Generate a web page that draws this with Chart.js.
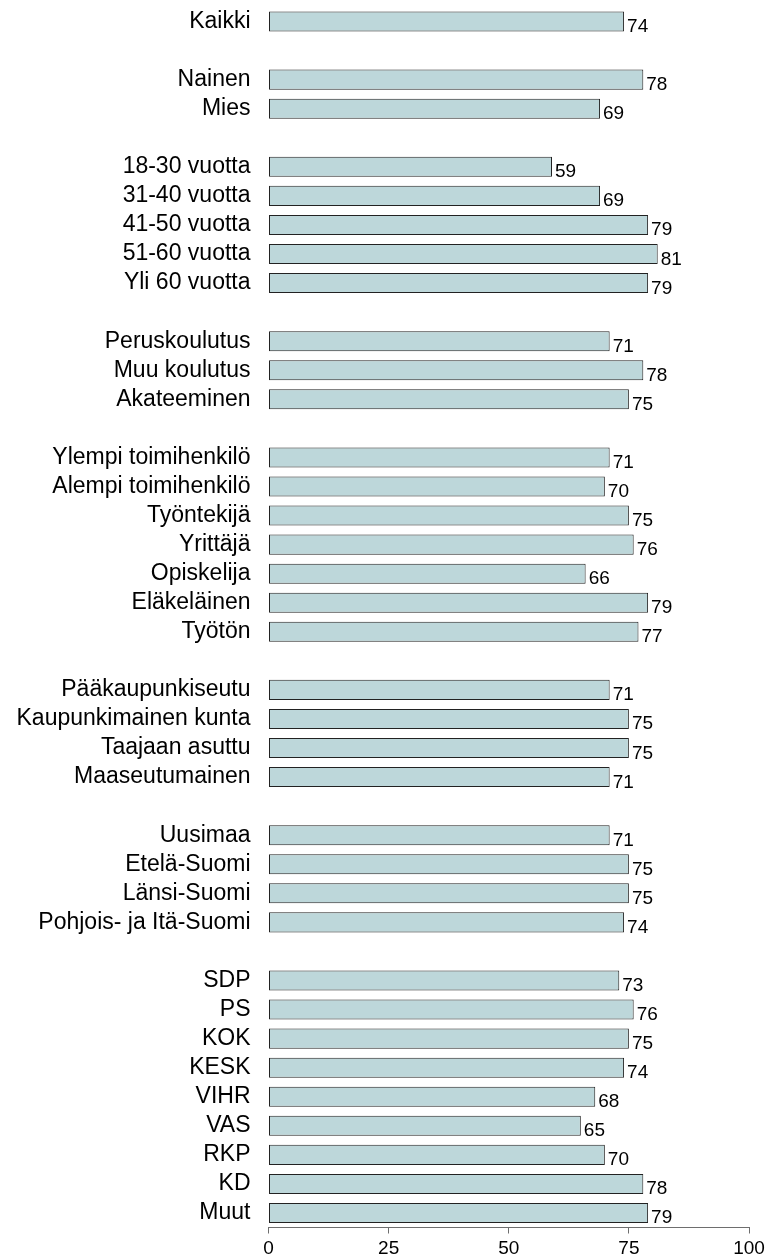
<!DOCTYPE html>
<html>
<head>
<meta charset="utf-8">
<script src="https://cdn.jsdelivr.net/npm/chart.js@4"></script>
<style>
  body { margin: 0; background: #fff; }
  #wrap { width: 767px; height: 1256px; position: relative; }
</style>
</head>
<body>
<div id="wrap"><canvas id="chartVastaajat"></canvas></div>
<script>
const kaikkiLabels = ['Kaikki'];
const kaikkiData = [74];
const sukupuoliLabels = ['Nainen', 'Mies'];
const sukupuoliData = [78, 69];
const ikaLabels = ['18-30 vuotta', '31-40 vuotta', '41-50 vuotta', '51-60 vuotta', 'Yli 60 vuotta'];
const ikaData = [59, 69, 79, 81, 79];
const koulutusLabels = ['Peruskoulutus', 'Muu koulutus', 'Akateeminen'];
const koulutusData = [71, 78, 75];
const ammattiLabels = ['Ylempi toimihenkilö', 'Alempi toimihenkilö', 'Työntekijä', 'Yrittäjä', 'Opiskelija', 'Eläkeläinen', 'Työtön'];
const ammattiData = [71, 70, 75, 76, 66, 79, 77];
const kuntaLabels = ['Pääkaupunkiseutu', 'Kaupunkimainen kunta', 'Taajaan asuttu', 'Maaseutumainen'];
const kuntaData = [71, 75, 75, 71];
const alueLabels = ['Uusimaa', 'Etelä-Suomi', 'Länsi-Suomi', 'Pohjois- ja Itä-Suomi'];
const alueData = [71, 75, 75, 74];
const puolueLabels = ['SDP', 'PS', 'KOK', 'KESK', 'VIHR', 'VAS', 'RKP', 'KD', 'Muut'];
const puolueData = [73, 76, 75, 74, 68, 65, 70, 78, 79];
const xTicks = [0, 25, 50, 75, 100];

// groups separated by one empty row
const ryhmat = [
    [kaikkiLabels, kaikkiData],
    [sukupuoliLabels, sukupuoliData],
    [ikaLabels, ikaData],
    [koulutusLabels, koulutusData],
    [ammattiLabels, ammattiData],
    [kuntaLabels, kuntaData],
    [alueLabels, alueData],
    [puolueLabels, puolueData]
];
const labels = [];
const valores = [];
ryhmat.forEach(function (r, i) {
    if (i > 0) {
        labels.push('');
        valores.push(null);
    }
    r[0].forEach(function (l, j) {
        labels.push(l);
        valores.push(r[1][j]);
    });
});

const valueLabels = {
    id: 'valueLabels',
    afterDatasetsDraw(chart) {
        const ctx = chart.ctx;
        const meta = chart.getDatasetMeta(0);
        ctx.save();
        ctx.font = '19px "Liberation Sans", Arial, sans-serif';
        ctx.fillStyle = '#000';
        ctx.textAlign = 'left';
        ctx.textBaseline = 'alphabetic';
        meta.data.forEach(function (bar, i) {
            const v = valores[i];
            if (v === null) return;
            ctx.fillText(String(v), bar.x + 3, bar.y + bar.height / 2 + 0.5);
        });
        ctx.restore();
    }
};

document.addEventListener("DOMContentLoaded", () => {
    const ctx = document.getElementById('chartVastaajat');

    new Chart(ctx, {
        type: 'bar',
        data: {
            labels: labels,
            datasets: [{
                data: valores,
                backgroundColor: '#bdd7da',
                borderColor: '#222',
                borderWidth: 1,
                borderSkipped: false,
                categoryPercentage: 1,
                barPercentage: 0.69
            }]
        },
        options: {
            indexAxis: 'y',
            responsive: true,
            maintainAspectRatio: false,
            animation: false,
            layout: {
                padding: { top: 7, right: 18, left: 0, bottom: 0 }
            },
            plugins: {
                legend: { display: false },
                tooltip: { enabled: false }
            },
            scales: {
                y: {
                    type: 'category',
                    offset: true,
                    grid: { display: false, drawTicks: false },
                    border: { display: false },
                    ticks: {
                        autoSkip: false,
                        padding: 18,
                        color: '#000',
                        font: { family: '"Liberation Sans", Arial, sans-serif', size: 23 }
                    },
                    afterFit(scale) {
                        scale.width = 268.5;
                        scale.paddingTop = 0;
                        scale.paddingBottom = 0;
                    }
                },
                x: {
                    min: 0,
                    max: 100,
                    afterBuildTicks(scale) {
                        scale.ticks = xTicks.map(v => ({ value: v }));
                    },
                    grid: {
                        display: true,
                        drawOnChartArea: false,
                        drawTicks: true,
                        tickLength: 6,
                        color: '#6e6e6e',
                        lineWidth: 1
                    },
                    border: { display: true, color: '#6e6e6e', width: 1 },
                    ticks: {
                        padding: 4,
                        color: '#000',
                        maxRotation: 0,
                        font: { family: '"Liberation Sans", Arial, sans-serif', size: 19 }
                    },
                    afterFit(scale) {
                        scale.height = 28.5;
                        scale.paddingLeft = 0;
                        scale.paddingRight = 0;
                    }
                }
            }
        },
        plugins: [valueLabels]
    });
});
</script>
</body>
</html>
